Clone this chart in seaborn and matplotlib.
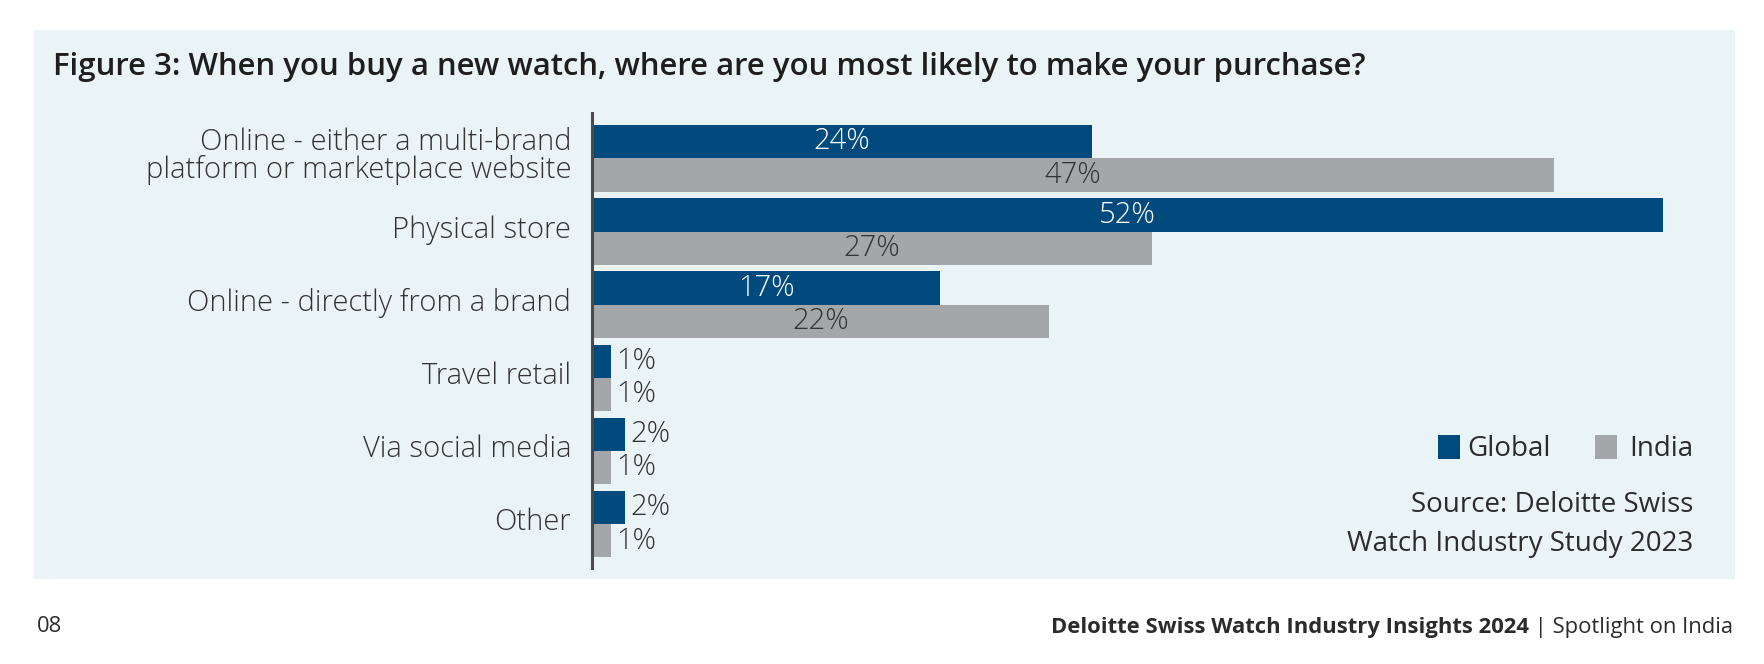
import matplotlib
matplotlib.use("Agg")
import matplotlib.pyplot as plt
import matplotlib.transforms as mtransforms
from matplotlib.patches import Rectangle
import seaborn as sns
import pandas as pd

categories = ["Online - either a multi-brand\nplatform or marketplace website",
              "Physical store", "Online - directly from a brand",
              "Travel retail", "Via social media", "Other"]
global_vals = [24.3, 52, 16.9, 0.9, 1.6, 1.6]
india_vals = [46.7, 27.2, 22.2, 0.9, 0.9, 0.9]
series = ["Global", "India"]

BLUE = "#004A7E"
GRAY = "#A4A7A9"
BG = "#EAF3F6"
TXT = "#2B2B2B"

sns.set_theme(style="white")
plt.rcParams["font.family"] = ["Open Sans", "DejaVu Sans"]

df = pd.DataFrame({
    "category": categories * 2,
    "value": global_vals + india_vals,
    "series": [series[0]] * len(categories) + [series[1]] * len(categories),
})

fig = plt.figure(figsize=(17.64, 6.64), dpi=100)
fig.patch.set_facecolor("white")
fig.patches.append(Rectangle((34 / 1764, 1 - 579 / 664), (1735 - 34) / 1764, (579 - 30) / 664,
                             transform=fig.transFigure, facecolor=BG, edgecolor="none", zorder=-5))

ax = fig.add_axes([592 / 1764, 1 - 568 / 664, (1663 - 592) / 1764, (568 - 113) / 664])
ax.set_zorder(2)
ax.set_facecolor("none")
sns.barplot(data=df, y="category", x="value", hue="series", orient="h",
            palette=[BLUE, GRAY], width=0.91, ax=ax, legend=False, saturation=1,
            linewidth=0, edgecolor="none")
ax.set_xlim(0, 52)
ax.set_ylim(5.6, -0.62)
for s in ["top", "right", "bottom"]:
    ax.spines[s].set_visible(False)
ax.spines["left"].set_color("#4A4A4A")
ax.spines["left"].set_linewidth(2.2)
ax.spines["left"].set_zorder(5)
ax.set_xticks([])
ax.set_xlabel("")
ax.set_ylabel("")
ax.tick_params(axis="y", length=0, pad=15)
offset = mtransforms.ScaledTranslation(0, 0.05, fig.dpi_scale_trans)
for lab in ax.get_yticklabels():
    lab.set_fontsize(21)
    lab.set_color("#333333")
    lab.set_fontweight("light")
    lab.set_linespacing(0.92)
    lab.set_transform(lab.get_transform() + offset)

for container, col in zip(ax.containers, ["white", "#333333"]):
    for bar in container:
        w = bar.get_width()
        yc = bar.get_y() + bar.get_height() / 2
        if w <= 2:
            ax.text(w + 0.28, yc, f"{w:.0f}%", ha="left", va="center", fontsize=21,
                    fontweight="light", color="#333333")
        else:
            ax.text(w / 2, yc, f"{w:.0f}%", ha="center", va="center", fontsize=21,
                    fontweight="light", color=col)

fig.text(53 / 1764, 1 - 67 / 664, "Figure 3: When you buy a new watch, where are you most likely to make your purchase?",
         fontsize=22.4, fontweight="semibold", color="#1E1E1E", va="center", ha="left")

# legend
fig.patches.append(Rectangle((1438 / 1764, 1 - 459 / 664), 22 / 1764, 24 / 664,
                             transform=fig.transFigure, facecolor=BLUE, edgecolor="none", zorder=3))
fig.text(1467 / 1764, 1 - 449 / 664, series[0], fontsize=20, color=TXT, va="center", ha="left")
fig.patches.append(Rectangle((1595 / 1764, 1 - 459 / 664), 22 / 1764, 24 / 664,
                             transform=fig.transFigure, facecolor=GRAY, edgecolor="none", zorder=3))
fig.text(1693 / 1764, 1 - 449 / 664, series[1], fontsize=20, color=TXT, va="center", ha="right")

fig.text(1693 / 1764, 1 - 505 / 664, "Source: Deloitte Swiss", fontsize=20, color=TXT, va="center", ha="right")
fig.text(1693 / 1764, 1 - 544 / 664, "Watch Industry Study 2023", fontsize=20, color=TXT, va="center", ha="right")

# footer
fig.text(37 / 1764, 1 - 627 / 664, "08", fontsize=15.8, color=TXT, va="center", ha="left")
t2 = fig.text(1733 / 1764, 1 - 627 / 664, " | Spotlight on India", fontsize=15.8, color=TXT, va="center", ha="right")
fig.canvas.draw()
bb = t2.get_window_extent()
fig.text(bb.x0 / 1764, 1 - 627 / 664, "Deloitte Swiss Watch Industry Insights 2024", fontsize=15.8,
         fontweight="bold", color=TXT, va="center", ha="right")

fig.savefig("out.png", dpi=100, facecolor="white")
